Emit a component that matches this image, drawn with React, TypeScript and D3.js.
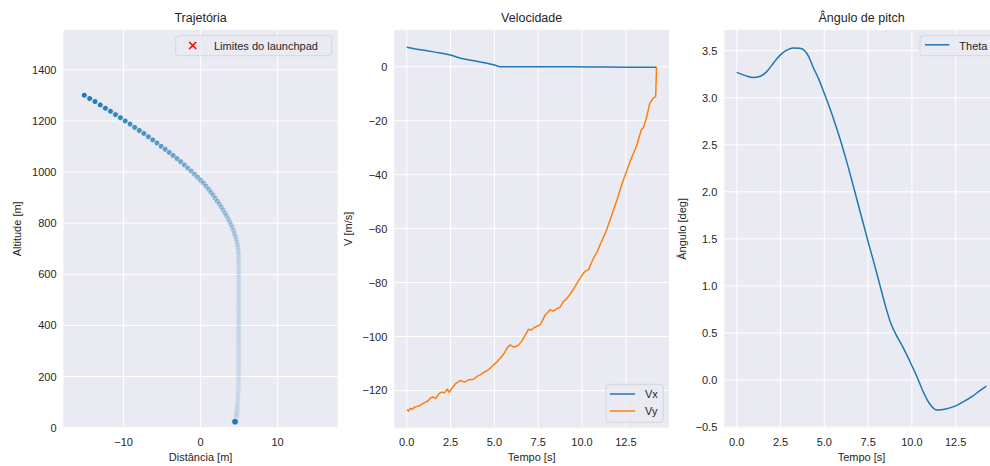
import { useRef, useEffect } from 'react';
import * as d3 from 'd3';

// trajectory samples, one every 0.1 s (x in m, altitude in m)
const TRAJ_X = [
  -15.1, -14.4, -13.71, -13.03, -12.36, -11.7,
  -11.05, -10.41, -9.78, -9.16, -8.55,
  -7.95, -7.36, -6.78, -6.21, -5.66,
  -5.12, -4.59, -4.07, -3.56, -3.06,
  -2.58, -2.11, -1.66, -1.22, -0.79,
  -0.38, 0.01, 0.38, 0.72, 1.04,
  1.34, 1.63, 1.91, 2.18, 2.44,
  2.69, 2.93, 3.16, 3.38, 3.59,
  3.78, 3.96, 4.12, 4.27, 4.4,
  4.52, 4.62, 4.71, 4.78, 4.84,
  4.89, 4.92, 4.93, 4.94, 4.94,
  4.94, 4.94, 4.94, 4.94, 4.94,
  4.94, 4.94, 4.94, 4.94, 4.94,
  4.94, 4.94, 4.94, 4.94, 4.94,
  4.94, 4.94, 4.94, 4.94, 4.94,
  4.94, 4.94, 4.94, 4.94, 4.94,
  4.94, 4.94, 4.94, 4.94, 4.94,
  4.94, 4.94, 4.94, 4.94, 4.94,
  4.94, 4.94, 4.94, 4.94, 4.94,
  4.94, 4.94, 4.94, 4.94, 4.94,
  4.94, 4.94, 4.94, 4.94, 4.94,
  4.93, 4.93, 4.92, 4.92, 4.91,
  4.9, 4.89, 4.88, 4.87, 4.86,
  4.85, 4.84, 4.83, 4.82, 4.81,
  4.8, 4.79, 4.78, 4.77, 4.76,
  4.75, 4.74, 4.73, 4.72, 4.71,
  4.7, 4.69, 4.68, 4.67, 4.66,
  4.65, 4.64, 4.63, 4.62, 4.61,
  4.6, 4.59,
];
const TRAJ_ALT = [
  1301, 1288, 1276, 1263, 1250, 1238,
  1225, 1213, 1200, 1188, 1175,
  1163, 1151, 1138, 1126, 1114,
  1101, 1089, 1077, 1065, 1053,
  1041, 1028, 1016, 1004, 992,
  980, 968, 957, 945, 933,
  921, 910, 898, 886, 875,
  863, 852, 840, 829, 817,
  805, 794, 783, 771, 760,
  749, 738, 727, 716, 705,
  694, 683, 673, 662, 651,
  641, 630, 620, 609, 599,
  589, 578, 568, 558, 548,
  538, 528, 518, 508, 498,
  488, 479, 469, 459, 450,
  440, 431, 422, 412, 403,
  394, 385, 376, 367, 358,
  349, 340, 332, 323, 314,
  306, 297, 289, 280, 272,
  264, 256, 248, 240, 232,
  224, 217, 209, 201, 194,
  187, 180, 173, 166, 159,
  153, 146, 140, 134, 128,
  122, 117, 112, 106, 101,
  97, 92, 88, 84, 79,
  76, 73, 69, 66, 62,
  60, 57, 54, 52, 49,
  47, 46, 44, 42, 40,
  39, 38,
];
const TOUCHDOWN = [4.47, 23.5];

const VX_T = [0, 0.5, 1.17, 1.6, 2.0, 2.5, 3.07, 3.5, 3.83, 4.2, 4.58, 5.0, 5.3, 6.5, 8.0, 9.5, 10.5, 11.5, 12.5, 13.5, 14.2, 14.25];
const VX = [7.2, 6.6, 5.9, 5.4, 5.0, 4.3, 3.1, 2.6, 2.2, 1.7, 1.26, 0.6, 0.0, 0.0, 0.0, -0.02, -0.1, -0.15, -0.18, -0.2, -0.22, -0.2];

const VY_T = [
  0, 0.1, 0.2, 0.3, 0.45, 0.6, 0.75, 0.9, 1.05, 1.2, 1.36, 1.5, 1.65, 1.84, 2.0, 2.15, 2.31, 2.42, 2.6, 2.78,
  3.07, 3.3, 3.55, 3.83, 4.0, 4.2, 4.39, 4.6, 4.77, 4.96, 5.15, 5.34, 5.55, 5.72, 5.9, 6.1, 6.25, 6.38, 6.55, 6.66,
  6.8, 6.95, 7.1, 7.23, 7.4, 7.61, 7.75, 7.9, 8.05, 8.18, 8.35, 8.56, 8.75, 8.94, 9.08, 9.22, 9.4, 9.6, 9.8, 10.08,
  10.22, 10.37, 10.5, 10.65, 10.85, 11.03, 11.2, 11.4, 11.6, 11.8, 12.0, 12.25, 12.5, 12.8, 13.1, 13.38, 13.5, 13.67,
  13.86, 13.95, 14.05, 14.15, 14.2, 14.25,
];
const VY = [
  -127.1, -127.6, -126.6, -127.0, -126.2, -125.9, -125.6, -124.9, -124.4, -123.9, -122.8, -122.4, -123.0, -121.2, -120.6, -120.9, -119.5, -120.7, -119.0, -117.5,
  -116.3, -116.9, -116.0, -115.8, -114.8, -114.2, -113.3, -112.6, -111.7, -110.5, -109.4, -108.0, -106.3, -104.3, -103.1, -103.9, -103.6, -103.1, -101.8, -100.6,
  -99.0, -97.3, -97.6, -96.9, -96.3, -95.7, -94.0, -92.0, -91.0, -90.1, -90.6, -89.7, -89.1, -87.0, -86.3, -85.2, -83.5, -81.5, -79.3, -76.5,
  -75.6, -75.3, -73.2, -71.0, -68.8, -66.0, -63.5, -60.5, -56.8, -53.0, -49.2, -44.0, -39.4, -34.2, -29.6, -23.4, -22.6, -19.1,
  -13.6, -12.8, -11.7, -11.3, -11.0, 0,
];

const THETA_T = [0, 0.5, 0.94, 1.3, 1.7, 2.1, 2.46, 2.8, 3.22, 3.6, 3.88, 4.1, 4.35, 4.7, 5.0, 5.35, 5.68, 6.0, 6.25, 6.6, 7.0, 7.5, 7.9, 8.2, 8.5, 8.8, 9.1, 9.47, 9.98, 10.3, 10.6, 11.0, 11.45, 12.0, 12.5, 13.0, 13.44, 13.9, 14.25];
const THETA = [3.27, 3.235, 3.215, 3.225, 3.275, 3.37, 3.45, 3.5, 3.53, 3.525, 3.5, 3.44, 3.33, 3.19, 3.045, 2.87, 2.69, 2.5, 2.34, 2.1, 1.82, 1.47, 1.2, 0.99, 0.78, 0.6, 0.48, 0.354, 0.16, 0.03, -0.106, -0.25, -0.32, -0.305, -0.275, -0.225, -0.175, -0.11, -0.064];

const ALT_TICKS = [0, 200, 400, 600, 800, 1000, 1200, 1400];
const DIST_TICKS = [-10, 0, 10];
const TIME_TICKS = [0, 2.5, 5, 7.5, 10, 12.5];
const V_TICKS = [0, -20, -40, -60, -80, -100, -120];
const ANG_TICKS = [-0.5, 0, 0.5, 1, 1.5, 2, 2.5, 3, 3.5];

const BLUE = '#1f77b4';
const ORANGE = '#ff7f0e';
const INK = '#262626';
const FONT = '"Liberation Sans", Arial, sans-serif';

export default function App() {
  const svgRef = useRef<SVGSVGElement>(null);

  useEffect(() => {
    const svg = d3.select(svgRef.current);
    svg.selectAll('*').remove();

    const top = 30;
    const bottom = 427.7;

    function panel(opts: any) {
      const { id, left, right, xDom, yDom, xTicks, yTicks, xFmt, yFmt, title, xLabel, yLabel, yLabelX } = opts;
      const x = d3.scaleLinear().domain(xDom).range([left, right]);
      const y = d3.scaleLinear().domain(yDom).range([bottom, top]);

      svg.append('clipPath').attr('id', id)
        .append('rect').attr('x', left).attr('y', top).attr('width', right - left).attr('height', bottom - top);

      svg.append('rect')
        .attr('x', left).attr('y', top)
        .attr('width', right - left).attr('height', bottom - top)
        .attr('fill', '#eaeaf2');

      const grid = svg.append('g').attr('stroke', '#fff').attr('stroke-width', 1);
      grid.selectAll('.gx').data(xTicks).join('line')
        .attr('x1', (d: number) => x(d)).attr('x2', (d: number) => x(d))
        .attr('y1', top).attr('y2', bottom);
      grid.selectAll('.gy').data(yTicks).join('line')
        .attr('y1', (d: number) => y(d)).attr('y2', (d: number) => y(d))
        .attr('x1', left).attr('x2', right);

      const txt = svg.append('g').attr('font-family', FONT).attr('fill', INK);
      txt.selectAll('.tx').data(xTicks).join('text')
        .attr('x', (d: number) => x(d)).attr('y', bottom + 14)
        .attr('text-anchor', 'middle').attr('dominant-baseline', 'central')
        .attr('font-size', 11).text((d: number) => xFmt(d));
      txt.selectAll('.ty').data(yTicks).join('text')
        .attr('x', left - 7).attr('y', (d: number) => y(d))
        .attr('text-anchor', 'end').attr('dominant-baseline', 'central')
        .attr('font-size', 11).text((d: number) => yFmt(d));

      txt.append('text')
        .attr('x', (left + right) / 2).attr('y', 21.5)
        .attr('text-anchor', 'middle').attr('font-size', 12.5).text(title);
      txt.append('text')
        .attr('x', (left + right) / 2).attr('y', 461)
        .attr('text-anchor', 'middle').attr('font-size', 11).text(xLabel);
      txt.append('text')
        .attr('transform', `translate(${yLabelX},${(top + bottom) / 2}) rotate(-90)`)
        .attr('text-anchor', 'middle').attr('dominant-baseline', 'central')
        .attr('font-size', 11).text(yLabel);

      return { x, y, g: svg.append('g').attr('clip-path', `url(#${id})`) };
    }

    function legendBox(x0: number, y0: number, w: number, h: number) {
      svg.append('rect')
        .attr('x', x0).attr('y', y0).attr('width', w).attr('height', h)
        .attr('rx', 3)
        .attr('fill', '#eaeaf2').attr('fill-opacity', 0.8)
        .attr('stroke', '#cfcfd6').attr('stroke-width', 0.8);
    }

    // trajectory
    const p1 = panel({
      id: 'c1', left: 63.5, right: 337.7, xDom: [-17.8, 17.8], yDom: [0, 1556],
      xTicks: DIST_TICKS, yTicks: ALT_TICKS, xFmt: d3.format('d'), yFmt: d3.format('d'),
      title: 'Trajetória', xLabel: 'Distância [m]', yLabel: 'Altitude [m]', yLabelX: 17,
    });
    const fade = d3.scaleLinear().domain([0, 0.18, 0.38, 1]).range([1, 0.5, 0.12, 0.015]);
    p1.g.selectAll('.pt').data(TRAJ_X).join('circle')
      .attr('cx', (d: number) => p1.x(d))
      .attr('cy', (_: number, i: number) => p1.y(TRAJ_ALT[i]))
      .attr('r', 3)
      .attr('fill', BLUE)
      .attr('stroke', '#fff')
      .attr('stroke-width', 0.8)
      .attr('opacity', (_: number, i: number) => fade(i / (TRAJ_X.length - 1)));
    p1.g.append('circle')
      .attr('cx', p1.x(TOUCHDOWN[0])).attr('cy', p1.y(TOUCHDOWN[1]))
      .attr('r', 3.3).attr('fill', BLUE).attr('stroke', '#fff').attr('stroke-width', 0.6);

    legendBox(175.7, 35.7, 156, 20);
    const mx = 192.7, my = 45.5;
    svg.append('path')
      .attr('d', `M${mx - 3.5},${my - 3.5}L${mx + 3.5},${my + 3.5}M${mx - 3.5},${my + 3.5}L${mx + 3.5},${my - 3.5}`)
      .attr('stroke', 'red').attr('stroke-width', 1.6);
    svg.append('text').attr('x', 214).attr('y', 45.5)
      .attr('dominant-baseline', 'central').attr('font-family', FONT).attr('font-size', 11)
      .attr('fill', INK).text('Limites do launchpad');

    // velocities
    const p2 = panel({
      id: 'c2', left: 394.3, right: 669, xDom: [-0.71, 14.96], yDom: [-133.8, 13.6],
      xTicks: TIME_TICKS, yTicks: V_TICKS, xFmt: d3.format('.1f'), yFmt: d3.format('d'),
      title: 'Velocidade', xLabel: 'Tempo [s]', yLabel: 'V [m/s]', yLabelX: 348,
    });
    const vxLine = d3.line<number>().x((_, i) => p2.x(VX_T[i])).y((d) => p2.y(d));
    const vyLine = d3.line<number>().x((_, i) => p2.x(VY_T[i])).y((d) => p2.y(d));
    p2.g.append('path').attr('d', vxLine(VX)).attr('fill', 'none').attr('stroke', BLUE).attr('stroke-width', 1.5);
    p2.g.append('path').attr('d', vyLine(VY)).attr('fill', 'none').attr('stroke', ORANGE).attr('stroke-width', 1.5)
      .attr('stroke-linejoin', 'round');

    legendBox(606, 384.3, 57.3, 38);
    [['Vx', BLUE, 394], ['Vy', ORANGE, 411]].forEach(([lab, col, yy]) => {
      svg.append('line').attr('x1', 610).attr('x2', 635).attr('y1', yy).attr('y2', yy)
        .attr('stroke', col as string).attr('stroke-width', 1.5);
      svg.append('text').attr('x', 645).attr('y', yy as number)
        .attr('dominant-baseline', 'central').attr('font-family', FONT).attr('font-size', 11)
        .attr('fill', INK).text(lab as string);
    });

    // pitch angle
    const p3 = panel({
      id: 'c3', left: 724.3, right: 998.8, xDom: [-0.71, 14.96], yDom: [-0.507, 3.72],
      xTicks: TIME_TICKS, yTicks: ANG_TICKS, xFmt: d3.format('.1f'), yFmt: d3.format('.1f'),
      title: 'Ângulo de pitch', xLabel: 'Tempo [s]', yLabel: 'Ângulo [deg]', yLabelX: 682,
    });
    const thLine = d3.line<number>().x((_, i) => p3.x(THETA_T[i])).y((d) => p3.y(d)).curve(d3.curveMonotoneX);
    p3.g.append('path').attr('d', thLine(THETA)).attr('fill', 'none').attr('stroke', BLUE).attr('stroke-width', 1.5);

    legendBox(920, 35.7, 80, 20);
    svg.append('line').attr('x1', 925).attr('x2', 949.3).attr('y1', 44.8).attr('y2', 44.8)
      .attr('stroke', BLUE).attr('stroke-width', 1.5);
    svg.append('text').attr('x', 959.3).attr('y', 45.5)
      .attr('dominant-baseline', 'central').attr('font-family', FONT).attr('font-size', 11)
      .attr('fill', INK).text('Theta');
  }, []);

  return (
    <svg
      ref={svgRef}
      width={990}
      height={466}
      style={{ position: 'absolute', left: 0, top: 0, background: '#fff' }}
    />
  );
}
